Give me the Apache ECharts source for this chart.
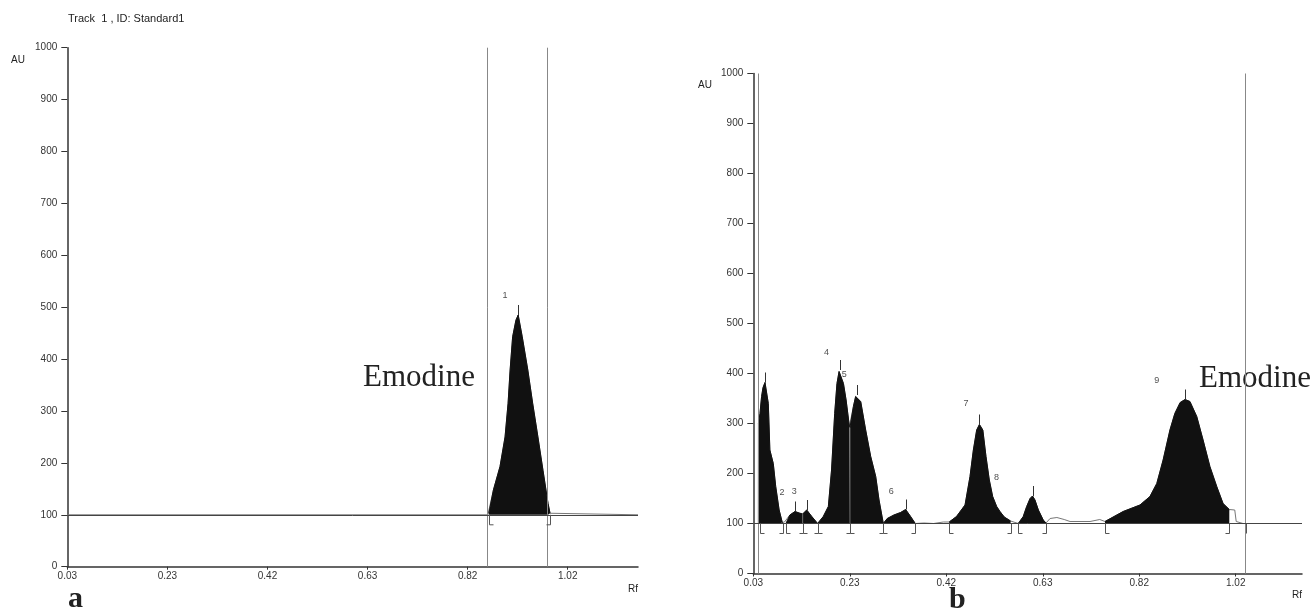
<!DOCTYPE html>
<html><head><meta charset="utf-8">
<script src="https://cdn.jsdelivr.net/npm/echarts@6/dist/echarts.min.js"></script>
<style>html,body{margin:0;padding:0;background:#fff}#c{width:1316px;height:611px}</style>
</head><body><div id="c"></div>
<script>
// ---- data ----
const xTickValues = [0.03, 0.228, 0.426, 0.624, 0.822, 1.02];
const xTickLabels = ['0.03', '0.23', '0.42', '0.63', '0.82', '1.02'];
const yMin = 0, yMax = 1000, yStep = 100;

// Chart a : standard (Emodine)
const traceA = [
  [0.03,100],[0.862,100],[0.864,103],[0.873,148],[0.886,193],[0.896,250],[0.902,315],[0.906,379],
  [0.911,443],[0.9175,475],[0.922,485],[0.930,443],[0.941,379],[0.9506,315],[0.961,250],[0.971,186],
  [0.981,122],[0.985,103],[0.987,100],[1.159,100]
];
const windowsA = [[0.864, 0.985]];
const bracketsA = [[0.864,'['],[0.985,']']];
const apexA = [[0.922,485]];
const peakLabelsA = [[0.896,523,'1']];
const markersA = [0.861, 0.985];
const dropLinesA = [];

// Chart b : sample
const traceB = [
  [0.03,100],[0.0403,100],[0.0405,300],[0.0437,320],[0.047,354],[0.050,372],[0.054,382],[0.056,378],
  [0.0608,340],[0.064,247],[0.071,220],[0.076,174],[0.083,127],[0.0895,102],[0.0916,100],
  [0.094,103],[0.097,100],
  [0.105,117],[0.1156,124],[0.124,121],[0.1313,119],[0.1396,127],[0.150,114],[0.162,100],
  [0.1736,114],[0.184,134],[0.1906,207],[0.197,320],[0.2017,380],[0.206,404],[0.208,407],[0.215,380],
  [0.2204,347],[0.2272,294],[0.2284,292],
  [0.2354,334],[0.240,354],[0.2435,357],[0.2504,344],[0.2606,287],[0.2709,234],[0.2812,194],[0.288,147],[0.2968,100],
  [0.3049,110],[0.3186,117],[0.3323,122],[0.3426,128],[0.3528,114],[0.3624,100],
  [0.380,101],[0.400,100],[0.420,103],[0.432,103],
  [0.447,114],[0.4645,137],[0.4747,194],[0.4816,247],[0.4884,287],[0.494,298],[0.501,287],[0.5075,234],
  [0.5143,187],[0.5212,154],[0.5294,134],[0.5362,124],[0.545,113],[0.558,105],
  [0.5738,100],[0.584,114],[0.591,134],[0.598,150],[0.603,155],[0.608,147],[0.615,127],[0.625,107],[0.6306,101],
  [0.639,110],[0.653,112],[0.668,108],[0.680,104],[0.721,104],[0.741,108],[0.7517,104],
  [0.789,124],[0.8235,137],[0.844,154],[0.858,180],[0.871,227],[0.885,287],[0.895,320],[0.906,342],
  [0.916,348],[0.926,344],[0.940,314],[0.953,267],[0.967,214],[0.981,174],[0.994,140],[1.0068,128],
  [1.018,127],[1.021,104],[1.035,100],[1.156,100]
];
const windowsB = [[0.0405,0.0916],[0.097,0.1313],[0.1313,0.162],[0.162,0.2284],[0.2284,0.2968],
  [0.2968,0.3624],[0.432,0.558],[0.5738,0.6306],[0.7517,1.0068]];
const bracketsB = [[0.0437,'['],[0.0916,']'],[0.097,'['],[0.1313,'I'],[0.162,'I'],[0.2284,'I'],[0.2968,'I'],
  [0.3624,']'],[0.432,'['],[0.558,']'],[0.5738,'['],[0.6306,']'],[0.7517,'['],[1.0068,']'],[1.041,'|']];
const apexB = [[0.054,382],[0.1156,124],[0.1396,127],[0.208,407],[0.2435,357],[0.3426,128],[0.494,298],[0.603,155],[0.916,348]];
const peakLabelsB = [[0.0888,162,'2'],[0.1142,164,'3'],[0.180,442,'4'],[0.2169,397,'5'],[0.3131,164,'6'],
  [0.4665,340,'7'],[0.5289,192,'8'],[0.8577,386,'9']];
const markersB = [0.041, 1.038];
const dropLinesB = [0.1313, 0.2284];

const xMaxA = 1.159, xMaxB = 1.156;
const baselineAU = 100;

// ---- build ----
const FONT = 'Liberation Sans, Arial, sans-serif';
const kindCode = {'[':0, ']':1, 'I':2, '|':3};

function axisX(gi, max) {
  return {
    gridIndex: gi, type: 'value', min: 0.03, max: max,
    axisLine: {show: true, onZero: false, lineStyle: {color: '#333', width: 1.5}},
    axisTick: {show: true, customValues: xTickValues, length: 3, lineStyle: {color: '#333'}},
    axisLabel: {show: true, customValues: xTickValues, margin: 5, fontSize: 10, color: '#333', fontFamily: FONT,
      formatter: function (v) {
        let bi = 0, bd = 1e9;
        xTickValues.forEach(function (t, i) { const d = Math.abs(t - v); if (d < bd) { bd = d; bi = i; } });
        return xTickLabels[bi];
      }},
    splitLine: {show: false}
  };
}
function axisY(gi) {
  return {
    gridIndex: gi, type: 'value', min: yMin, max: yMax, interval: yStep,
    axisLine: {show: true, onZero: false, lineStyle: {color: '#333', width: 1.5}},
    axisTick: {show: true, length: 6, lineStyle: {color: '#333'}},
    axisLabel: {show: true, margin: 10, fontSize: 10, color: '#333', fontFamily: FONT,
      formatter: function (v) { return String(v); }},
    splitLine: {show: false}
  };
}

function buildSeries(gi, trace, windows, brackets, apex, labels, markers, drops) {
  const s = [];
  s.push({
    type: 'line', xAxisIndex: gi, yAxisIndex: gi, data: trace, showSymbol: false, symbol: 'none',
    lineStyle: {color: '#777', width: 1}, z: 2, silent: true,
    markLine: {
      silent: true, symbol: 'none', label: {show: false},
      data: markers.map(function (m) { return {xAxis: m, lineStyle: {color: '#888', width: 1, type: 'solid'}}; })
        .concat([{yAxis: baselineAU, lineStyle: {color: '#444', width: 1, type: 'solid'}}])
    }
  });
  windows.forEach(function (w) {
    s.push({
      type: 'line', xAxisIndex: gi, yAxisIndex: gi, showSymbol: false, symbol: 'none', silent: true,
      data: trace.filter(function (p) { return p[0] >= w[0] - 1e-9 && p[0] <= w[1] + 1e-9; }),
      lineStyle: {color: '#111', width: 1},
      areaStyle: {color: '#111', opacity: 1, origin: baselineAU}, z: 3
    });
  });
  const dropData = drops.map(function (r) {
    const p = trace.find(function (q) { return Math.abs(q[0] - r) < 1e-9; });
    return [r, p ? p[1] : baselineAU];
  });
  s.push({
    type: 'custom', xAxisIndex: gi, yAxisIndex: gi, data: dropData, z: 5, silent: true,
    renderItem: function (params, api) {
      const a = api.coord([api.value(0), baselineAU]);
      const b = api.coord([api.value(0), api.value(1)]);
      return {type: 'line', shape: {x1: a[0], y1: a[1], x2: b[0], y2: b[1]}, style: {stroke: '#666', lineWidth: 1}};
    }
  });
  s.push({
    type: 'custom', xAxisIndex: gi, yAxisIndex: gi, z: 5, silent: true,
    data: brackets.map(function (b) { return [b[0], kindCode[b[1]]]; }),
    renderItem: function (params, api) {
      const p = api.coord([api.value(0), baselineAU]);
      const k = api.value(1);
      const x = Math.round(p[0]) + 0.5, y0 = p[1], y1 = p[1] + 10;
      const ch = [{type: 'line', shape: {x1: x, y1: y0, x2: x, y2: y1}, style: {stroke: '#555', lineWidth: 1}}];
      if (k === 0 || k === 2) ch.push({type: 'line', shape: {x1: x, y1: y1, x2: x + 4, y2: y1}, style: {stroke: '#555', lineWidth: 1}});
      if (k === 1 || k === 2) ch.push({type: 'line', shape: {x1: x - 4, y1: y1, x2: x, y2: y1}, style: {stroke: '#555', lineWidth: 1}});
      return {type: 'group', children: ch};
    }
  });
  s.push({
    type: 'custom', xAxisIndex: gi, yAxisIndex: gi, data: apex, z: 5, silent: true,
    renderItem: function (params, api) {
      const p = api.coord([api.value(0), api.value(1)]);
      const x = Math.round(p[0]) + 0.5;
      return {type: 'line', shape: {x1: x, y1: p[1], x2: x, y2: p[1] - 10}, style: {stroke: '#333', lineWidth: 1}};
    }
  });
  s.push({
    type: 'scatter', xAxisIndex: gi, yAxisIndex: gi, data: labels, symbolSize: 1, silent: true, z: 6,
    itemStyle: {color: 'rgba(0,0,0,0)'},
    label: {show: true, position: 'inside', formatter: function (p) { return p.value[2]; },
      fontSize: 9, color: '#222', fontFamily: FONT}
  });
  return s;
}

function txt(text, x, y, font, align) {
  return {type: 'text', x: x, y: y, silent: true,
    style: {text: text, font: font, fill: '#222', align: align || 'left', textAlign: align || 'left',
      verticalAlign: 'middle', textVerticalAlign: 'middle'}};
}

const option = {
  animation: false,
  backgroundColor: '#fff',
  grid: [
    {left: 67.3, top: 47.7, width: 570.7, height: 519, containLabel: false},
    {left: 753.3, top: 73.5, width: 548.7, height: 500, containLabel: false}
  ],
  xAxis: [axisX(0, xMaxA), axisX(1, xMaxB)],
  yAxis: [axisY(0), axisY(1)],
  series: buildSeries(0, traceA, windowsA, bracketsA, apexA, peakLabelsA, markersA, dropLinesA)
    .concat(buildSeries(1, traceB, windowsB, bracketsB, apexB, peakLabelsB, markersB, dropLinesB)),
  graphic: [
    txt('Track  1 , ID: Standard1', 68, 19, '11px ' + FONT),
    txt('AU', 11, 60, '10px ' + FONT),
    txt('AU', 698, 85, '10px ' + FONT),
    txt('Rf', 628, 589, '10px ' + FONT),
    txt('Rf', 1292, 595, '10px ' + FONT),
    txt('Emodine', 363, 378, '31px Liberation Serif, Times New Roman, serif'),
    txt('Emodine', 1199, 379, '31px Liberation Serif, Times New Roman, serif'),
    txt('a', 68, 599, 'bold 30px Liberation Serif, Times New Roman, serif'),
    txt('b', 949, 600, 'bold 30px Liberation Serif, Times New Roman, serif')
  ]
};
echarts.init(document.getElementById('c'), null, {renderer: 'canvas'}).setOption(option);
</script>
</body></html>
